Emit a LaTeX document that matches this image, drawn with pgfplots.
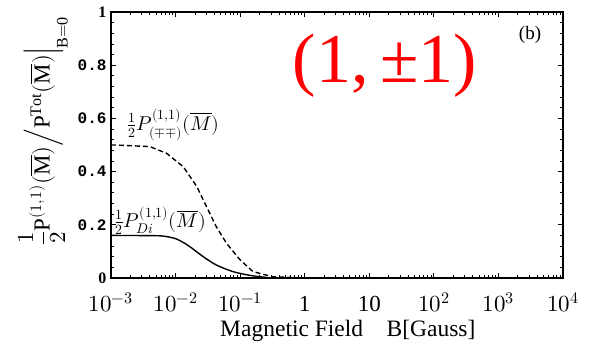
\documentclass[border=0pt]{standalone}
\usepackage{pgfplots}
\pgfplotsset{compat=1.18}
\usepackage{fontspec}
\setmainfont{Liberation Serif}
\setmonofont{Liberation Mono}
\usepackage{unicode-math}
\setmathfont{Latin Modern Math}
\begin{document}
\begin{tikzpicture}
\begin{axis}[
  scale only axis, width=452pt, height=266pt,
  xmode=log, xmin=1e-3, xmax=1e4, ymin=0, ymax=1,
  xtick={1e-3,1e-2,1e-1,1,10,100,1000,10000},
  xticklabels={$10^{-3}$,$10^{-2}$,$10^{-1}$,1,10,$10^{2}$,$10^{3}$,$10^{4}$},
  ytick={0,0.2,0.4,0.6,0.8,1},
  yticklabels={\textbf{0},\texttt{\textbf{0.2}},\texttt{\textbf{0.4}},\texttt{\textbf{0.6}},\texttt{\textbf{0.8}},\textbf{1}},
  minor y tick num=4,
  tick align=inside, major tick length=5pt, minor tick length=3pt,
  ticks=both,
  axis line style={line width=1.2pt},
  every tick/.style={line width=0.8pt, black},
  xticklabel style={font=\fontsize{23}{26}\selectfont, anchor=base, yshift=-34pt},
  yticklabel style={font=\fontsize{16}{18}\selectfont, xshift=-1pt},
  clip=false,
]
\addplot[black, line width=1.4pt, dashed, dash pattern=on 5pt off 3pt] coordinates {
(1e-3,0.50) (0.00115,0.50) (0.00398,0.494) (0.00724,0.469) (0.0132,0.418) (0.0214,0.343)
(0.0302,0.268) (0.0427,0.193) (0.0617,0.130) (0.1,0.068) (0.158,0.024) (0.316,0.005)
(1,0.0) (1e4,0.0)};
\addplot[black, line width=1.4pt, smooth] coordinates {
(1e-3,0.16) (0.00115,0.16) (0.005,0.159) (0.0071,0.156) (0.01,0.148) (0.0126,0.136)
(0.0166,0.118) (0.0269,0.080) (0.0427,0.049) (0.0776,0.024) (0.141,0.010) (0.24,0.003) (0.5,0.0) (1e4,0.0)};
\node[anchor=base, font=\fontsize{23.5}{26}\selectfont] at (rel axis cs:0.524,0) [yshift=-59pt]
  {Magnetic Field\quad B[Gauss]};
\node[anchor=west, font=\fontsize{20}{22}\selectfont] at (rel axis cs:0.028,0.575)
  {$\frac{1}{2}P^{(1,1)}_{(\mp\mp)}(\overline{M})$};
\node[anchor=west, font=\fontsize{20}{22}\selectfont] at (rel axis cs:0.0,0.215)
  {$\frac{1}{2}P^{(1,1)}_{Di}(\overline{M})$};
\node[font=\fontsize{19}{21}\selectfont] at (rel axis cs:0.927,0.914) {(b)};
\node[text=red, font=\fontsize{70}{74}\selectfont] at (rel axis cs:0.606,0.80) {(1,\,±1)};
\node[rotate=90, font=\fontsize{23}{26}\selectfont] at (rel axis cs:-0.15,0.553)
  {$\dfrac{1}{2}\mathrm{P}^{(1,1)}(\overline{\mathrm{M}})\Big/\mathrm{P}^{\mathrm{Tot}}(\overline{\mathrm{M}})\Big|_{\mathrm{B=0}}$};
\end{axis}
\pgfresetboundingbox
\path (-111pt,-69pt) rectangle (485pt,278pt);
\end{tikzpicture}
\end{document}
